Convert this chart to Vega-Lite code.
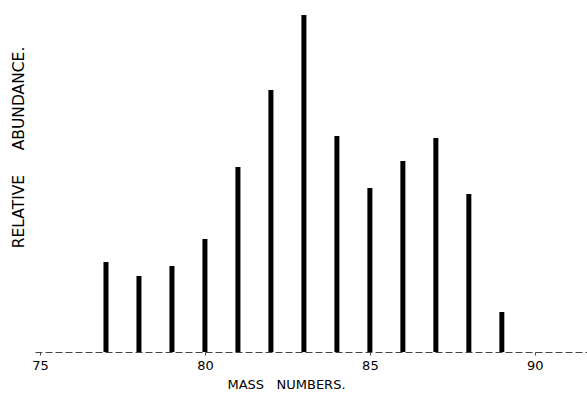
{
  "$schema": "https://vega.github.io/schema/vega-lite/v6.json",
  "width": 552,
  "height": 352,
  "autosize": "none",
  "padding": {"left": 35, "top": 0, "right": 0, "bottom": 42},
  "background": "white",
  "config": {"view": {"stroke": null}, "font": "DejaVu Sans"},
  "data": {"values": [
    {"mass": 77, "abundance": 90},
    {"mass": 78, "abundance": 76},
    {"mass": 79, "abundance": 86},
    {"mass": 80, "abundance": 113},
    {"mass": 81, "abundance": 185},
    {"mass": 82, "abundance": 262},
    {"mass": 83, "abundance": 337},
    {"mass": 84, "abundance": 216},
    {"mass": 85, "abundance": 164},
    {"mass": 86, "abundance": 191},
    {"mass": 87, "abundance": 214},
    {"mass": 88, "abundance": 158},
    {"mass": 89, "abundance": 40}
  ]},
  "mark": {"type": "bar", "size": 5, "color": "black"},
  "encoding": {
    "x": {
      "field": "mass", "type": "quantitative",
      "scale": {"domain": [75, 91.43], "nice": false, "zero": false},
      "axis": {
        "title": "MASS\u00a0\u00a0\u00a0NUMBERS.",
        "titleFont": "DejaVu Sans", "titleFontWeight": "normal", "titleFontSize": 13,
        "titleColor": "black", "titleX": 251, "titleY": 36, "titleAlign": "center", "titleBaseline": "alphabetic",
        "values": [75, 80, 85, 90],
        "labelFlush": false, "labelFontSize": 13, "labelColor": "black", "labelPadding": 4,
        "domainDash": [7, 3], "domainColor": "#444", "domainWidth": 1,
        "ticks": true, "tickSize": 3, "tickColor": "#444",
        "grid": false
      }
    },
    "y": {
      "field": "abundance", "type": "quantitative",
      "scale": {"domain": [0, 352], "nice": false},
      "axis": {
        "title": "RELATIVE\u00a0\u00a0\u00a0\u00a0\u00a0ABUNDANCE.",
        "titleFont": "DejaVu Sans", "titleFontWeight": "normal", "titleFontSize": 15.5,
        "titleColor": "black", "titleX": -12, "titleY": 147, "titleAngle": 270,
        "titleAlign": "center", "titleBaseline": "alphabetic",
        "domain": false, "ticks": false, "labels": false, "grid": false
      }
    }
  }
}
